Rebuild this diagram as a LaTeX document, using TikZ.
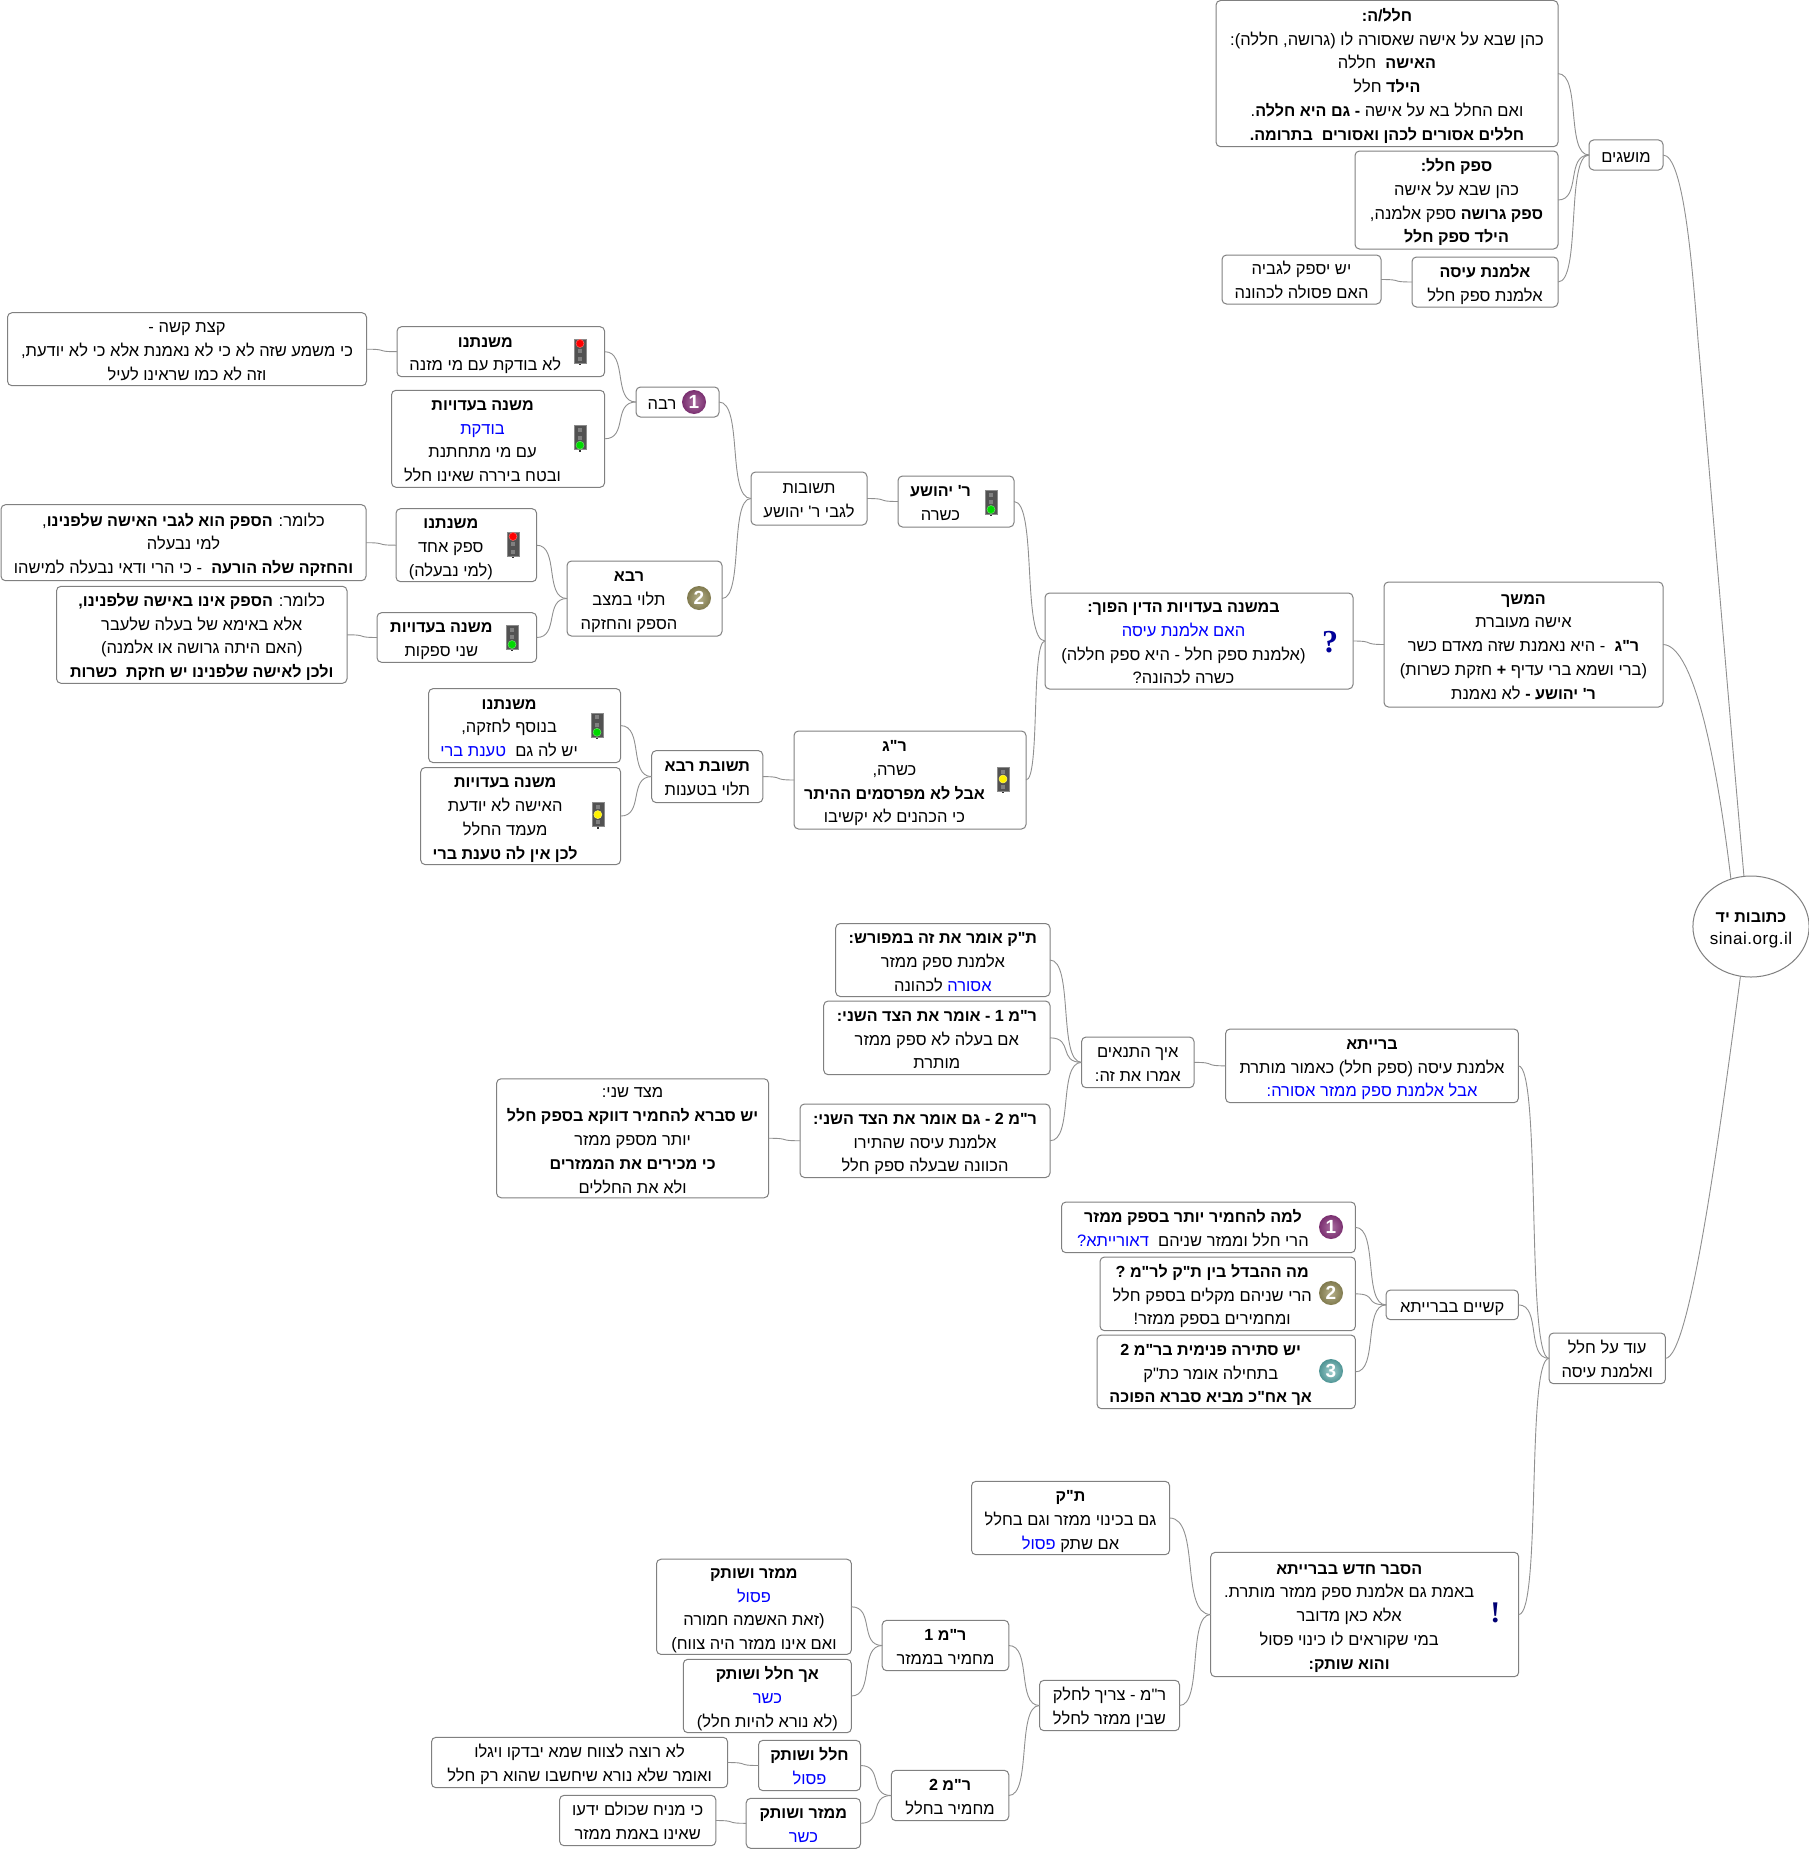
\documentclass[tikz,border=0pt]{standalone}
\usepackage{fontspec}
\usepackage{xcolor}
\usetikzlibrary{calc,shapes.geometric}
\newfontfamily\heb[Script=Hebrew]{Liberation Sans}
\newfontfamily\latinfont[LetterSpace=3]{Liberation Sans}
\newfontfamily\plainlatin{Liberation Sans}
\newfontfamily\serifmark{Liberation Serif}
\TeXXeTstate=1
\definecolor{edge}{HTML}{808080}
\definecolor{line}{HTML}{909090}
\definecolor{hblue}{HTML}{0000FF}
\newcommand\hl[1]{\beginR #1\endR}
\newcommand\bd[1]{{\fontsize{16.1}{23.8}\selectfont\bfseries #1}}
\newcommand\blu[1]{\beginL\hbox{{\color{hblue}\beginR #1\endR}}\endL{}}
\tikzset{
  nbox/.style={draw=edge,line width=1pt,rounded corners=4.5pt,fill=white,inner sep=0pt,outer sep=0pt,
    font=\heb\fontsize{16.5}{23.8}\selectfont},
  rootnode/.style={ellipse,draw=edge,line width=1pt,fill=white,inner sep=0pt,outer sep=0pt,
    font=\heb\fontsize{16.5}{21.5}\selectfont},
  cn/.style={draw=line,line width=.9pt},
  badgeshape/.style={circle,minimum size=24pt,inner sep=0pt,text=white,font=\plainlatin\fontsize{19}{19}\selectfont\bfseries},
  lamp/.style={circle,inner sep=0pt,minimum size=8pt},
  offlamp/.style={rectangle,inner sep=0pt,minimum size=4pt,fill=black!50},
}
\newcommand\bx[7][0]{\node[nbox,minimum width={(#5-#3)*1pt},minimum height={(#6-#4)*1pt}] (#2) at ({(#3+#5)/2},{(#4+#6)/2})
  {\raisebox{-2.5pt}[\height][\depth]{\begin{tabular}{@{}c@{}}#7\end{tabular}\kern#1pt}};}
\newcommand\cn[2]{\draw[cn] (#1.east) .. controls ($(#1.east)!0.75!(#2.west |- #1.east)$) and ($(#2.west)!0.75!(#1.east |- #2.west)$) .. (#2.west);}
% traffic light: name, x, y, lit position (0 top,1 mid,2 bottom), colour
\newcommand\tlight[5]{%
  \fill[black!80] (#2-0.8,#3+10) rectangle (#2+0.8,#3+14);
  \node[rectangle,inner sep=0pt,minimum width=12pt,minimum height=24pt,fill=black!68,draw=black!45,line width=.6pt] (#1) at (#2,#3) {};
  \foreach \p in {0,1,2}{\node[offlamp] at (#2,#3-7.5+7.5*\p) {};}
  \node[lamp,fill=#5,draw=#5!60!white,line width=.5pt] at (#2,#3-7.5+7.5*#4) {};
}
\newcommand\badge[6]{%
  \node[badgeshape,shade,inner color=#4,outer color=#5] (#1) at (#2,#3) {#6};
}
\definecolor{purpin}{HTML}{A96FA0}\definecolor{purout}{HTML}{7A2F70}
\definecolor{olvin}{HTML}{B5B08A}\definecolor{olvout}{HTML}{807A4E}
\definecolor{tealin}{HTML}{A2CFCF}\definecolor{tealout}{HTML}{4E9494}
\begin{document}
\begin{tikzpicture}[x=1pt,y=-1pt]
\useasboundingbox (0,0) rectangle (1808,1849);
\fill[white] (0,0) rectangle (1808,1849);
\node[rootnode,minimum width=114pt,minimum height=101pt] (root) at (1751,926.5)
  {\raisebox{-2.5pt}[\height][\depth]{\begin{tabular}{@{}c@{}}\hl{\bd{כתובות יד}}\\{\latinfont\fontsize{17}{21.5}\selectfont sinai.org.il}\end{tabular}}};
% top group
\bx{halal}{1216}{0.5}{1558}{146.7}{\hl{\bd{חלל/ה:}}\\\hl{כהן שבא על אישה שאסורה לו (גרושה, חללה):}\\\hl{\bd{האישה}\ \ חללה}\\\hl{\bd{הילד} חלל}\\\hl{ואם החלל בא על אישה \bd{- גם היא חללה}.}\\\hl{\bd{חללים אסורים לכהן ואסורים\ \ בתרומה.}}}
\bx{safek}{1355}{151}{1558}{249}{\hl{\bd{ספק חלל:}}\\\hl{כהן שבא על אישה}\\\hl{\bd{ספק גרושה} ספק אלמנה,}\\\hl{\bd{הילד ספק חלל}}}
\bx{almana}{1412}{257}{1558}{307}{\hl{\bd{אלמנת עיסה}}\\\hl{אלמנת ספק חלל}}
\bx{yesh}{1222}{255}{1381}{304}{\hl{יש יספק לגביה}\\\hl{האם פסולה לכהונה}}
\bx{musagim}{1589}{140}{1663}{170}{\hl{מושגים}}
\bx{hamshech}{1384}{582}{1663}{707}{\hl{\bd{המשך}}\\\hl{אישה מעוברת}\\\hl{\bd{ר"ג}\ \ - היא נאמנת שזה מאדם כשר}\\\hl{(ברי ושמא ברי עדיף \bd{+} חזקת כשרות)}\\\hl{\bd{ר' יהושע -} לא נאמנת}}
\bx[31]{bemishna}{1045}{593}{1353}{689}{\hl{\bd{במשנה בעדויות הדין הפוך:}}\\\hl{\blu{האם אלמנת עיסה}}\\\hl{(אלמנת ספק חלל - היא ספק חללה)}\\\hl{כשרה לכהונה?}}
\bx[31]{ryeh}{898}{476}{1014}{527}{\hl{\bd{ר' יהושע}}\\\hl{כשרה}}
\bx{tshuvot}{751}{472}{867}{525}{\hl{תשובות}\\\hl{לגבי ר' יהושע}}
\bx[31]{ravaone}{636}{387}{719}{417}{\hl{רבה}}
\bx[31]{ravatwo}{567}{561}{722}{636}{\hl{\bd{רבא}}\\\hl{תלוי במצב}\\\hl{הספק והחזקה}}
\bx{kzat}{7.5}{312.7}{366.5}{385.7}{\hl{קצת קשה -}\\\hl{כי משמע שזה לא כי לא נאמנת אלא כי לא יודעת,}\\\hl{וזה לא כמו שראינו לעיל}}
\bx[31]{mishone}{397}{326.7}{604.6}{376.7}{\hl{\bd{משנתנו}}\\\hl{לא בודקת עם מי מזנה}}
\bx[31]{eduone}{391.5}{390.3}{604.6}{487.3}{\hl{\bd{משנה בעדויות}}\\\hl{\blu{בודקת}}\\\hl{עם מי מתחתנת}\\\hl{ובטח ביררה שאינו חלל}}
\bx{klomarone}{1}{504.7}{366}{580.7}{\hl{כלומר: \bd{הספק הוא לגבי האישה שלפנינו},}\\\hl{למי נבעלה}\\\hl{\bd{והחזקה שלה הורעה}\ \ - כי הרי ודאי נבעלה למישהו}}
\bx[31]{mishtwo}{396}{508.7}{536.6}{581.7}{\hl{\bd{משנתנו}}\\\hl{ספק אחד}\\\hl{(למי נבעלה)}}
\bx{klomartwo}{56.5}{586.3}{347}{683.3}{\hl{כלומר: \bd{הספק אינו באישה שלפנינו,}}\\\hl{אלא באימא של בעלה שלעבר}\\\hl{(האם היתה גרושה או אלמנה)}\\\hl{\bd{ולכן לאישה שלפנינו יש חזקת\ \ כשרות}}}
\bx[31]{edutwo}{377}{612.7}{536.6}{662.3}{\hl{\bd{משנה בעדויות}}\\\hl{שני ספקות}}
\bx[31]{ratg}{794}{731}{1026}{829}{\hl{\bd{ר"ג}}\\\hl{כשרה,}\\\hl{\bd{אבל לא מפרסמים ההיתר}}\\\hl{כי הכהנים לא יקשיבו}}
\bx{tshuvatrava}{651.7}{750.6}{762.8}{802.6}{\hl{\bd{תשובת רבא}}\\\hl{תלוי בטענות}}
\bx[31]{mishthree}{428.6}{688.6}{620.6}{762.6}{\hl{\bd{משנתנו}}\\\hl{בנוסף לחזקה,}\\\hl{יש לה גם\ \ \blu{טענת ברי}}}
\bx[31]{eduthree}{420.7}{767.5}{620.6}{864.6}{\hl{\bd{משנה בעדויות}}\\\hl{האישה לא יודעת}\\\hl{מעמד החלל}\\\hl{\bd{לכן אין לה טענת ברי}}}
% lower group
\bx{od}{1549}{1333}{1665.4}{1383.7}{\hl{עוד על חלל}\\\hl{ואלמנת עיסה}}
\bx{braita}{1225.6}{1029}{1518.4}{1102.7}{\hl{\bd{ברייתא}}\\\hl{אלמנת עיסה (ספק חלל) כאמור מותרת}\\\hl{\blu{אבל אלמנת ספק ממזר אסורה:}}}
\bx{eich}{1081.6}{1037}{1194}{1087.7}{\hl{איך התנאים}\\\hl{אמרו את זה:}}
\bx{tak}{835.7}{923.5}{1050}{996.5}{\hl{\bd{ת"ק אומר את זה במפורש:}}\\\hl{אלמנת ספק ממזר}\\\hl{\blu{אסורה} לכהונה}}
\bx{rmoneb}{823.7}{1001}{1050}{1074.7}{\hl{\bd{ר"מ 1 - אומר את הצד השני:}}\\\hl{אם בעלה לא ספק ממזר}\\\hl{מותרת}}
\bx{rmtwob}{800}{1104}{1050}{1177.5}{\hl{\bd{ר"מ 2 - גם אומר את הצד השני:}}\\\hl{אלמנת עיסה שהתירו}\\\hl{הכוונה שבעלה ספק חלל}}
\bx{mitzad}{496.6}{1079.5}{768.6}{1197}{\hl{מצד שני:}\\\hl{\bd{יש סברא להחמיר דווקא בספק חלל}}\\\hl{יותר מספק ממזר}\\\hl{\bd{כי מכירים את הממזרים}}\\\hl{ולא את החללים}}
\bx{kushiyot}{1386}{1290}{1518.4}{1319.7}{\hl{קשיים בברייתא}}
\bx[31]{lama}{1061.5}{1202}{1355.4}{1252.7}{\hl{\bd{למה להחמיר יותר בספק ממזר}}\\\hl{הרי חלל וממזר שניהם\ \ \blu{דאורייתא?}}}
\bx[31]{ma}{1100}{1257}{1355.4}{1330.7}{\hl{\bd{מה ההבדל בין ת"ק לר"מ ?}}\\\hl{הרי שניהם מקלים בספק חלל}\\\hl{ומחמירים בספק ממזר!}}
\bx[31]{stira}{1097}{1335}{1355.4}{1408.7}{\hl{\bd{יש סתירה פנימית בר"מ 2}}\\\hl{בתחילה אומר כת"ק}\\\hl{\bd{אך אח"כ מביא סברא הפוכה}}}
\bx[31]{hesber}{1210.7}{1552.3}{1518.7}{1676.7}{\hl{\bd{הסבר חדש בברייתא}}\\\hl{באמת גם אלמנת ספק ממזר מותרת.}\\\hl{אלא כאן מדובר}\\\hl{במי שקוראים לו כינוי פסול}\\\hl{\bd{והוא שותק:}}}
\bx{taktwo}{971.5}{1481.3}{1169.6}{1554.7}{\hl{\bd{ת"ק}}\\\hl{גם בכינוי ממזר וגם בחלל}\\\hl{אם שתק \blu{פסול}}}
\bx{lachalek}{1039.5}{1680.3}{1179.5}{1730.7}{\hl{ר"מ - צריך לחלק}\\\hl{שבין ממזר לחלל}}
\bx{rmonem}{882.2}{1620.3}{1008.8}{1670.7}{\hl{\bd{ר"מ 1}}\\\hl{מחמיר בממזר}}
\bx{rmtwom}{891.3}{1770.3}{1008.8}{1820.7}{\hl{\bd{ר"מ 2}}\\\hl{מחמיר בחלל}}
\bx{msone}{656.5}{1559.3}{851.4}{1654.3}{\hl{\bd{ממזר ושותק}}\\\hl{\blu{פסול}}\\\hl{(זאת האשמה חמורה}\\\hl{ואם אינו ממזר היה צווח)}}
\bx{ach}{683.3}{1659.3}{851.4}{1732.7}{\hl{\bd{אך חלל ושותק}}\\\hl{\blu{כשר}}\\\hl{(לא נורא להיות חלל)}}
\bx{hs}{758.5}{1740.3}{860.5}{1790.7}{\hl{\bd{חלל ושותק}}\\\hl{\blu{פסול}}}
\bx{lorotze}{431.5}{1737.3}{727.6}{1787.7}{\hl{לא רוצה לצווח שמא יבדקו ויגלו}\\\hl{ואומר שלא נורא שיחשבו שהוא רק חלל}}
\bx{mstwo}{746.2}{1798.3}{860.5}{1848.3}{\hl{\bd{ממזר ושותק}}\\\hl{\blu{כשר}}}
\bx{kimaniach}{559.6}{1795.3}{715.8}{1845.7}{\hl{כי מניח שכולם ידעו}\\\hl{שאינו באמת ממזר}}
% root connectors
\draw[cn] (musagim.east) .. controls (1683,155) and (1692,260) .. (1698,340) .. controls (1712,500) and (1730,720) .. (root.98);
\draw[cn] (hamshech.east) .. controls (1695,645) and (1718,770) .. (root.113);
\draw[cn] (od.east) .. controls (1690,1358) and (1720,1130) .. (root.258);
% tree connectors
\cn{halal}{musagim}\cn{safek}{musagim}\cn{almana}{musagim}\cn{yesh}{almana}
\cn{bemishna}{hamshech}\cn{ryeh}{bemishna}\cn{ratg}{bemishna}\cn{tshuvot}{ryeh}
\cn{ravaone}{tshuvot}\cn{ravatwo}{tshuvot}\cn{mishone}{ravaone}\cn{eduone}{ravaone}\cn{kzat}{mishone}
\cn{mishtwo}{ravatwo}\cn{edutwo}{ravatwo}\cn{klomarone}{mishtwo}\cn{klomartwo}{edutwo}
\cn{tshuvatrava}{ratg}\cn{mishthree}{tshuvatrava}\cn{eduthree}{tshuvatrava}
\cn{braita}{od}\cn{kushiyot}{od}\cn{hesber}{od}\cn{eich}{braita}\cn{tak}{eich}\cn{rmoneb}{eich}\cn{rmtwob}{eich}\cn{mitzad}{rmtwob}
\cn{lama}{kushiyot}\cn{ma}{kushiyot}\cn{stira}{kushiyot}
\cn{taktwo}{hesber}\cn{lachalek}{hesber}\cn{rmonem}{lachalek}\cn{rmtwom}{lachalek}
\cn{msone}{rmonem}\cn{ach}{rmonem}\cn{hs}{rmtwom}\cn{mstwo}{rmtwom}\cn{lorotze}{hs}\cn{kimaniach}{mstwo}
% icons
\tlight{tlone}{580}{351}{0}{red}
\tlight{tltwo}{580}{437.7}{2}{green!85!black}
\tlight{tlthree}{513}{544}{0}{red}
\tlight{tlfour}{512}{637}{2}{green!85!black}
\tlight{tlfive}{991}{502}{2}{green!85!black}
\tlight{tlsix}{1003}{779}{1}{yellow}
\tlight{tlseven}{597}{724.8}{2}{green!85!black}
\tlight{tleight}{597.8}{814.6}{1}{yellow}
\badge{bone}{694}{402}{purpin}{purout}{1}
\badge{btwo}{699}{598}{olvin}{olvout}{2}
\badge{bthree}{1331}{1227}{purpin}{purout}{1}
\badge{bfour}{1331}{1293}{olvin}{olvout}{2}
\badge{bfive}{1331}{1371}{tealin}{tealout}{3}
\node[inner sep=0pt,text=blue!60!black,font=\fontsize{32}{32}\selectfont\bfseries] (qmark) at (1330,642) {\serifmark ?};
\node[inner sep=0pt,text=blue!45!black,font=\fontsize{30}{30}\selectfont\bfseries] (emark) at (1495.4,1613) {\serifmark !};
\end{tikzpicture}
\end{document}
